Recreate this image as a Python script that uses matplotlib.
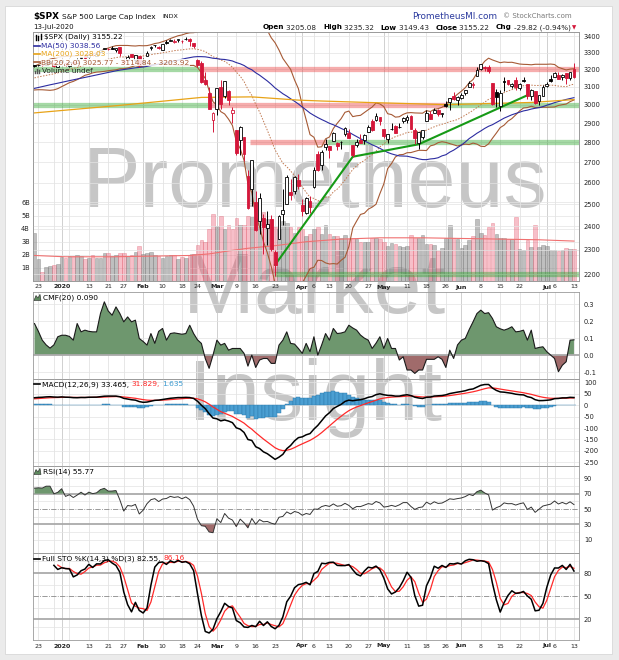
import numpy as np
import pandas as pd
import matplotlib
matplotlib.use("Agg")
import matplotlib.pyplot as plt
from matplotlib.patches import Rectangle, Polygon
from matplotlib.lines import Line2D
from matplotlib.ticker import NullLocator
from matplotlib.transforms import blended_transform_factory

# ------------------------------------------------------------------ data
holidays = ['2019-12-25', '2020-01-01', '2020-01-20', '2020-02-17',
            '2020-04-10', '2020-05-25', '2020-07-03']
dates = pd.bdate_range('2019-12-20', '2020-07-13')
dates = dates[~dates.isin(pd.to_datetime(holidays))]

# closes before the visible window (for indicator warm-up)
hist_close = [2938.13, 2970.27, 2966.15, 2995.68, 2989.69, 2997.95, 2986.20, 3006.72,
              2995.99, 3004.52, 3010.29, 3022.55, 3039.42, 3036.89, 3046.77, 3037.56,
              3066.91, 3078.27, 3074.62, 3076.78, 3085.18, 3093.08, 3087.01, 3091.84,
              3094.04, 3096.63, 3120.46, 3122.03, 3120.18, 3108.46, 3103.54, 3110.29,
              3133.64, 3140.52, 3153.63, 3140.98,
              3113.87, 3093.20, 3112.76, 3117.43, 3145.91, 3135.96, 3132.52, 3141.63,
              3168.57, 3168.80, 3191.45, 3192.52, 3191.14, 3205.37]

opens = [3223.33,
         3226.05, 3225.45, 3227.20, 3247.23, 3240.09, 3215.18,
         3244.67, 3226.36, 3217.55, 3241.86, 3238.59, 3266.03, 3281.81,
         3271.13, 3285.35, 3282.27, 3302.97, 3323.66,
         3321.03, 3330.02, 3315.77, 3333.10,
         3247.16, 3255.35, 3289.46, 3256.45, 3282.33,
         3235.66, 3280.61, 3324.91, 3344.92, 3335.54,
         3318.28, 3365.87, 3370.50, 3365.90, 3378.08,
         3369.04, 3380.39, 3380.45, 3360.50,
         3257.61, 3238.94, 3139.90, 3062.54, 2916.90,
         2974.28, 3096.46, 3045.75, 3075.70, 2954.20,
         2863.89, 2813.48, 2825.60, 2630.86, 2569.99,
         2508.59, 2425.66, 2436.50, 2393.48, 2431.94,
         2290.71, 2344.44, 2457.77, 2501.29, 2555.87,
         2558.98, 2614.69,
         2498.08, 2458.54, 2514.92,
         2578.28, 2738.65, 2685.00, 2776.99,
         2782.46, 2805.10, 2795.64, 2799.34, 2842.43,
         2845.62, 2784.81, 2787.89, 2810.42, 2812.64,
         2854.65, 2909.96, 2918.46, 2930.91,
         2869.09,
         2815.01, 2868.88, 2883.14, 2878.26, 2908.83,
         2915.46, 2939.50, 2865.86, 2794.54, 2829.95,
         2913.86, 2948.59, 2953.63, 2969.95, 2948.05,
         3004.08, 3015.65, 3046.61, 3025.17,
         3038.78, 3064.78, 3098.90, 3111.56, 3163.84,
         3199.92, 3213.32, 3213.42, 3123.53, 3071.04,
         2993.76, 3131.00, 3136.13, 3101.64, 3140.29,
         3094.42, 3138.70, 3114.40, 3046.60, 3073.20,
         3018.59, 3050.20,
         3105.92, 3143.64,
         3155.29, 3166.44, 3153.07, 3176.17, 3152.47,
         3205.08]

highs = [3225.65,
         3227.78, 3226.43, 3240.08, 3247.93, 3240.92, 3231.72,
         3258.14, 3246.15, 3246.84, 3244.91, 3267.07, 3275.58, 3282.99,
         3288.13, 3294.25, 3298.66, 3317.11, 3329.88,
         3329.79, 3337.77, 3326.88, 3333.18,
         3258.85, 3285.78, 3293.47, 3285.91, 3282.33,
         3268.44, 3306.92, 3337.58, 3347.96, 3341.42,
         3352.26, 3375.63, 3381.47, 3385.09, 3380.69,
         3375.01, 3393.52, 3389.15, 3360.76,
         3259.81, 3246.99, 3182.51, 3097.07, 2959.72,
         3090.96, 3136.72, 3130.97, 3083.04, 2985.93,
         2863.89, 2882.59, 2825.60, 2660.95, 2711.33,
         2562.98, 2553.93, 2453.57, 2466.97, 2453.01,
         2300.73, 2449.71, 2571.42, 2637.01, 2615.91,
         2631.80, 2641.39,
         2522.75, 2533.22, 2538.18,
         2676.85, 2756.89, 2760.75, 2818.57,
         2782.46, 2851.85, 2801.88, 2806.51, 2879.22,
         2868.98, 2785.54, 2815.10, 2844.90, 2842.71,
         2887.72, 2921.15, 2954.86, 2930.91,
         2869.09,
         2844.24, 2898.23, 2891.11, 2901.92, 2932.16,
         2944.25, 2945.82, 2874.14, 2852.80, 2865.01,
         2968.09, 2964.21, 2980.29, 2978.50, 2956.76,
         3021.72, 3036.25, 3068.67, 3049.17,
         3062.18, 3081.07, 3130.94, 3128.91, 3211.72,
         3233.13, 3222.71, 3223.27, 3123.53, 3088.42,
         3079.76, 3153.45, 3141.16, 3120.00, 3155.53,
         3120.92, 3154.90, 3115.01, 3086.25, 3073.73,
         3053.89, 3111.51,
         3128.44, 3165.81,
         3182.59, 3184.15, 3171.80, 3179.78, 3186.82,
         3235.32]

lows = [3216.03,
        3222.30, 3220.51, 3227.20, 3234.37, 3216.57, 3212.03,
        3235.53, 3222.34, 3214.64, 3232.43, 3236.67, 3263.67, 3260.86,
        3268.43, 3277.19, 3280.69, 3302.82, 3318.86,
        3316.61, 3320.04, 3301.87, 3281.53,
        3234.50, 3253.22, 3271.89, 3242.80, 3214.68,
        3235.66, 3280.61, 3313.75, 3334.39, 3322.12,
        3317.77, 3352.72, 3369.72, 3360.52, 3366.15,
        3355.61, 3378.83, 3341.02, 3328.45,
        3214.65, 3118.77, 3108.99, 2977.39, 2855.84,
        2945.19, 2976.63, 3034.38, 2999.83, 2901.54,
        2734.43, 2734.00, 2707.22, 2478.86, 2492.37,
        2380.94, 2367.04, 2280.52, 2319.78, 2295.56,
        2191.86, 2344.44, 2407.53, 2500.72, 2520.02,
        2545.28, 2571.15,
        2447.49, 2455.79, 2459.96,
        2574.57, 2657.67, 2663.30, 2762.36,
        2721.17, 2805.10, 2761.54, 2764.32, 2830.88,
        2820.43, 2727.10, 2775.95, 2794.26, 2791.76,
        2852.89, 2860.71, 2912.16, 2892.47,
        2821.61,
        2797.85, 2863.55, 2847.65, 2876.48, 2902.88,
        2903.44, 2869.59, 2793.15, 2766.64, 2816.78,
        2913.86, 2922.35, 2953.63, 2938.57, 2933.59,
        2988.17, 2969.75, 3023.40, 2998.61,
        3031.54, 3051.64, 3098.90, 3090.41, 3163.84,
        3196.00, 3193.11, 3181.49, 2999.49, 2984.47,
        2965.66, 3076.06, 3108.03, 3093.51, 3083.11,
        3079.39, 3127.12, 3032.13, 3024.01, 3004.63,
        2999.74, 3047.83,
        3101.17, 3124.52,
        3155.29, 3142.93, 3136.53, 3115.70, 3136.22,
        3149.43]

closes = [3221.22,
          3224.01, 3223.38, 3239.91, 3240.02, 3221.29, 3230.78,
          3257.85, 3234.85, 3246.28, 3237.18, 3253.05, 3274.70, 3265.35,
          3288.13, 3283.15, 3289.29, 3316.81, 3329.62,
          3320.79, 3321.75, 3325.54, 3295.47,
          3243.63, 3276.24, 3273.40, 3283.66, 3225.52,
          3248.92, 3297.59, 3334.69, 3345.78, 3327.71,
          3352.09, 3357.75, 3379.45, 3373.94, 3380.16,
          3370.29, 3386.15, 3373.23, 3337.75,
          3225.89, 3128.21, 3116.39, 2978.76, 2954.22,
          3090.23, 3003.37, 3130.12, 3023.94, 2972.37,
          2746.56, 2882.23, 2741.38, 2480.64, 2711.02,
          2386.13, 2529.19, 2398.10, 2409.39, 2304.92,
          2237.40, 2447.33, 2475.56, 2630.07, 2541.47,
          2626.65, 2584.59,
          2470.50, 2526.90, 2488.65,
          2663.68, 2659.41, 2749.98, 2789.82,
          2761.63, 2846.06, 2783.36, 2799.55, 2874.56,
          2823.16, 2736.56, 2799.31, 2797.80, 2836.74,
          2878.48, 2863.39, 2939.51, 2912.43,
          2830.71,
          2842.74, 2868.44, 2848.42, 2881.19, 2929.80,
          2930.32, 2870.12, 2820.00, 2852.50, 2863.70,
          2953.91, 2922.94, 2971.61, 2948.51, 2955.45,
          2991.77, 3036.13, 3029.73, 3044.31,
          3055.73, 3080.82, 3122.87, 3112.35, 3193.93,
          3232.39, 3207.18, 3190.14, 3002.10, 3041.31,
          3066.59, 3124.74, 3113.49, 3115.34, 3097.74,
          3117.86, 3131.29, 3050.33, 3083.76, 3009.05,
          3053.24, 3100.29,
          3115.86, 3130.01,
          3179.72, 3145.32, 3169.94, 3152.05, 3185.04,
          3155.22]

# volume in billions
volume_b = [3.7, 1.7, 0.65, 1.07, 1.15, 1.25, 1.3, 1.8, 1.75, 1.9, 1.9, 1.95, 1.9, 1.7,
            1.75, 2.0, 1.75, 1.75, 2.15, 2.15, 1.9, 2.0, 2.15, 2.15, 1.9, 2.0, 2.2, 2.7,
            2.07, 2.15, 2.2, 1.95, 1.9, 1.75, 1.9, 2.0, 1.95, 1.7, 1.8, 1.75, 2.0, 2.07,
            2.75, 3.1, 2.95, 3.95, 5.1,
            4.2, 4.95, 3.95, 4.3, 3.95, 4.8, 4.25, 4.3, 5.0, 4.9, 4.2, 4.6, 5.25, 4.7,
            4.7, 4.1, 3.95, 4.6, 4.45, 4.1, 3.7, 4.1, 3.95, 3.45, 3.6, 3.95, 4.1, 3.6,
            4.3, 3.6, 3.45, 3.45, 3.3, 3.5, 3.2, 3.3, 3.2, 2.95, 3.0, 2.95, 3.3, 3.3,
            3.2, 3.0, 2.7,
            2.9, 2.8, 2.7, 2.6, 2.65, 3.5, 3.3, 3.25, 3.5, 2.85, 2.85, 2.75, 2.3, 2.5,
            3.25, 4.3, 3.25, 3.2, 2.5, 2.75, 3.1, 3.4, 4.7, 3.7, 3.5, 4.1, 4.4, 3.6,
            3.3, 3.3, 3.2, 3.2, 4.9, 2.45, 2.4, 3.1, 2.6, 4.3, 2.6, 2.75, 2.7, 2.4,
            2.4, 2.3, 2.4, 2.5, 2.45, 2.45]

# volume moving-average line (read points: bar index, billions)
vol_ma_idx = [0, 8, 20, 40, 45, 50, 55, 62, 70, 79, 89, 100, 110, 120, 130, 139]
vol_ma_val = [1.95, 1.85, 1.85, 1.95, 2.07, 2.3, 2.5, 2.7, 3.0, 3.2, 3.3, 3.3, 3.25, 3.2, 3.15, 3.05]

# MA(200) line (read points)
ma200_idx = [0, 22, 43, 56, 68, 74, 86, 106, 128, 139]
ma200_val = [2955, 2996, 3040, 3043, 3025, 3020, 3012, 3000, 3012, 3028.03]

# Chaikin money flow (read per bar)
cmf = [0.186, 0.14, 0.088, 0.06, 0.041, 0.06, 0.108, 0.117, 0.117, 0.11, 0.088, 0.186,
       0.137, 0.147, 0.14, 0.137, 0.137, 0.245, 0.314, 0.26, 0.235, 0.284, 0.245, 0.196,
       0.225, 0.196, 0.206, 0.098, 0.08, 0.059, 0.127, 0.069, 0.14, 0.157, 0.088, 0.127,
       0.131, 0.127, 0.123, 0.127, 0.176, 0.127, 0.09, 0.069, -0.02, -0.078, 0.0, 0.088,
       0.059, 0.069, 0.029, 0.039, 0.039, 0.039, 0.01, -0.065, 0.0, -0.073, -0.029,
       -0.02, -0.02, -0.049, -0.049, 0.059, 0.088, 0.137, 0.069, 0.065, 0.039, 0.01,
       0.069, 0.02, 0.108, 0.0, 0.06, 0.127, 0.088, 0.157, 0.127, 0.13, 0.137, 0.176,
       0.16, 0.147, 0.118, 0.1, 0.088, 0.039, 0.07, 0.108, 0.039, 0.098, 0.039, 0.039,
       -0.029, -0.01, -0.088, -0.088, -0.108, -0.088, -0.088, -0.025, -0.025, -0.025,
       -0.01, -0.025, -0.073, 0.029, -0.02, 0.06, 0.088, 0.098, 0.15, 0.196, 0.245,
       0.265, 0.245, 0.25, 0.216, 0.167, 0.155, 0.147, 0.155, 0.167, 0.137, 0.14, 0.147,
       0.088, 0.147, 0.039, 0.045, 0.049, 0.02, 0.0, -0.02, -0.098, -0.06, -0.039,
       0.088, 0.09]

# drawn annotations: support / resistance bands (price, from bar, to bar, kind)
bands = [(3200, -1, 42.7, 'g'), (3200, 42.7, 141, 'r'),
         (3000, -1, 44.7, 'g'), (3000, 44.7, 106.3, 'r'), (3000, 106.3, 141, 'g'),
         (2800, 55.5, 75.4, 'r'), (2800, 75.4, 141, 'g'),
         (2200, 61.8, 141, 'g')]
trend_idx = [62, 82, 99, 127]
trend_px = [2237.4, 2727.1, 2790.0, 3052.0]

label_dates = ['2019-12-23', '2020-01-02', '2020-01-13', '2020-01-21', '2020-01-27',
               '2020-02-03', '2020-02-10', '2020-02-18', '2020-02-24', '2020-03-02',
               '2020-03-09', '2020-03-16', '2020-03-23', '2020-04-01', '2020-04-06',
               '2020-04-13', '2020-04-20', '2020-04-27', '2020-05-01', '2020-05-11',
               '2020-05-18', '2020-05-26', '2020-06-01', '2020-06-08', '2020-06-15',
               '2020-06-22', '2020-07-01', '2020-07-06', '2020-07-13']
label_text = ['23', '2020', '13', '21', '27', 'Feb', '10', '18', '24', 'Mar', '9', '16',
              '23', 'Apr', '6', '13', '20', '27', 'May', '11', '18', '26', 'Jun', '8',
              '15', '22', 'Jul', '6', '13']
price_ticks = [2200, 2300, 2400, 2500, 2600, 2700, 2800, 2900, 3000, 3100, 3200, 3300, 3400]
vol_ticks = [1, 2, 3, 4, 5, 6]

# ------------------------------------------------------------------ indicators
N = len(closes)
x = np.arange(N)
o = np.array(opens); h = np.array(highs); l = np.array(lows); c = np.array(closes)
call = np.array(hist_close + closes, float)
hall = np.array(hist_close + highs, float)
lall = np.array(hist_close + lows, float)
off = len(hist_close)


def sma(a, n):
    a = np.asarray(a, float)
    out = np.full(len(a), np.nan)
    for i in range(n - 1, len(a)):
        out[i] = a[i - n + 1:i + 1].mean()
    return out


def rstd(a, n):
    a = np.asarray(a, float)
    out = np.full(len(a), np.nan)
    for i in range(n - 1, len(a)):
        out[i] = a[i - n + 1:i + 1].std()
    return out


def ema(a, n):
    k = 2.0 / (n + 1)
    out = np.empty(len(a))
    out[0] = a[0]
    for i in range(1, len(a)):
        out[i] = a[i] * k + out[i - 1] * (1 - k)
    return out


ma50 = sma(call, 50)[off:]
bbm = sma(call, 20)[off:]
bbs = rstd(call, 20)[off:]
bbu, bbl = bbm + 2 * bbs, bbm - 2 * bbs

macd_all = ema(call, 12) - ema(call, 26)
sig_all = ema(macd_all, 9)
macd = macd_all[off:]; sig = sig_all[off:]; hist = macd - sig

d = np.diff(call)
g = np.clip(d, 0, None); ls = np.clip(-d, 0, None)
rsi_all = np.full(len(call), np.nan)
ag, al = g[:14].mean(), ls[:14].mean()
rsi_all[14] = 100 - 100 / (1 + ag / al)
for i in range(14, len(d)):
    ag = (ag * 13 + g[i]) / 14
    al = (al * 13 + ls[i]) / 14
    rsi_all[i + 1] = 100 - 100 / (1 + ag / al)
rsi = rsi_all[off:]

fastk = np.full(len(call), np.nan)
for i in range(13, len(call)):
    hh = hall[i - 13:i + 1].max(); ll = lall[i - 13:i + 1].min()
    fastk[i] = (call[i] - ll) / (hh - ll) * 100
fullk = sma(fastk, 3)
fulld = sma(fullk, 3)
stok = fullk[off:].copy(); stod = fulld[off:].copy()
stok[:5] = np.nan; stod[:6] = np.nan

prev = np.r_[hist_close[-1], closes[:-1]]
up_day = c >= prev
lbl_idx = [int(np.where(dates == pd.Timestamp(dd))[0][0]) for dd in label_dates]
wk = pd.Series(dates).dt.isocalendar().week.values
week_idx = [i for i in range(N) if i == 0 or wk[i] != wk[i - 1]]
month_idx = [i for i in range(N) if i > 0 and dates[i].month != dates[i - 1].month]
grid_idx = sorted(set(week_idx[1:] + month_idx))

# ------------------------------------------------------------------ figure
W, H = 619, 660
fig = plt.figure(figsize=(W / 100, H / 100), dpi=100)
fig.patch.set_facecolor('#ebebeb')
fig.add_artist(Rectangle((5 / W, 1 - 654 / H), 607 / W, 648 / H, transform=fig.transFigure,
                         facecolor='white', edgecolor='#d8d8d8', lw=0.6, zorder=-5))

LX, RX = 32.7, 579.0
XL = (-0.46, 140.3)
RED = '#d4173a'
GRN_FILL = '#6e976e'
RED_FILL = '#a06b6b'
GRID = '#e3e3e3'
MGRID = '#c9c9c9'
SP = '#9a9a9a'
FS = 4.8


def add_ax(top, bot):
    ax = fig.add_axes([LX / W, 1 - bot / H, (RX - LX) / W, (bot - top) / H])
    ax.set_facecolor('none')
    ax.set_xlim(*XL)
    ax.set_xticks([])
    for s in ax.spines.values():
        s.set_color(SP); s.set_linewidth(0.6)
    ax.yaxis.tick_right()
    ax.tick_params(axis='y', length=0, pad=3.5, labelsize=FS, colors='#222222')
    return ax


def vgrid(ax):
    for i in grid_idx:
        ax.axvline(i, color=MGRID if i in month_idx else GRID, lw=0.6, zorder=0)


# watermark (behind the data)
for word, yb in [('Prometheus', 207), ('Market', 313), ('Insight', 420)]:
    fig.text(315 / W, 1 - yb / H, word, fontsize=62, family='Liberation Sans',
             color='#c6c6c6', ha='center', va='baseline', zorder=-1)

# price / volume panel
ax_v = add_ax(32.3, 281.0)
ax_v.set_ylim(0, 19.0)
ax_v.yaxis.tick_left()
ax_v.set_yticks(vol_ticks)
ax_v.set_yticklabels([f'{v}B' for v in vol_ticks])
ax_v.tick_params(axis='y', length=0, pad=2, labelsize=FS)
vgrid(ax_v)
for v in vol_ticks:
    ax_v.axhline(v, color=GRID, lw=0.5, zorder=0)
vcol = [(0.5, 0.5, 0.5, 0.5) if u else (0.92, 0.35, 0.45, 0.38) for u in up_day]
vedge = [(0.45, 0.45, 0.45, 0.6) if u else (0.88, 0.35, 0.42, 0.55) for u in up_day]
ax_v.bar(x, volume_b, width=0.92, color=vcol, edgecolor=vedge, lw=0.4, zorder=1)
ax_v.plot(vol_ma_idx, vol_ma_val, color='#f07070', lw=0.8, zorder=2)

ax_p = add_ax(32.3, 281.0)
ax_p.set_yscale('log')
ax_p.set_ylim(2172, 3425)
ax_p.set_xlim(*XL)
ax_p.set_yticks(price_ticks)
ax_p.set_yticklabels([str(t) for t in price_ticks])
ax_p.yaxis.set_minor_locator(NullLocator())
for t in price_ticks:
    ax_p.axhline(t, color=GRID, lw=0.5, zorder=0.5)
for pr, a, b, k in bands:
    ax_p.plot([a, b], [pr, pr], color='#2aa52a' if k == 'g' else '#ea3c3c',
              lw=3.8, alpha=0.42, solid_capstyle='butt', zorder=1)
ax_p.plot(x, bbu, color='#a65a35', lw=0.8, zorder=2)
ax_p.plot(x, bbl, color='#a65a35', lw=0.8, zorder=2)
ax_p.plot(x, bbm, color='#c07850', lw=0.7, ls=(0, (1.5, 1.5)), zorder=2)
ax_p.plot(x, ma50, color='#2c2ca0', lw=0.8, zorder=2)
ax_p.plot(ma200_idx, ma200_val, color='#e8a317', lw=0.9, zorder=2)
ax_p.plot(trend_idx, trend_px, color='#169a16', lw=1.5, zorder=2.5)
for i in range(N):
    col = 'black' if up_day[i] else RED
    ax_p.vlines(i, l[i], h[i], colors=col, lw=0.7, zorder=3)
    bot, top = min(o[i], c[i]), max(o[i], c[i])
    if top - bot < bot * 0.0009:
        top = bot * 1.0009
    ax_p.bar(i, top - bot, bottom=bot, width=0.72,
             facecolor='white' if c[i] > o[i] else col, edgecolor=col, lw=0.6, zorder=4)

# CMF panel
ax_c = add_ax(292.0, 379.0)
ax_c.set_ylim(-0.141, 0.372)
ax_c.set_yticks([-0.1, 0.0, 0.1, 0.2, 0.3])
ax_c.set_yticklabels(['-0.1', '0.0', '0.1', '0.2', '0.3'])
vgrid(ax_c)
for t in [-0.1, 0.1, 0.2, 0.3]:
    ax_c.axhline(t, color=GRID, lw=0.5, zorder=0)
cm = np.array(cmf)
ax_c.fill_between(x, cm, 0, where=cm >= 0, interpolate=True, color=GRN_FILL, lw=0, zorder=1)
ax_c.fill_between(x, cm, 0, where=cm <= 0, interpolate=True, color=RED_FILL, lw=0, zorder=1)
ax_c.axhline(0, color='#aaaaaa', lw=1.3, zorder=1.5)
ax_c.plot(x, cm, color='#1a1a1a', lw=0.8, zorder=2)

# MACD panel
ax_m = add_ax(379.0, 466.0)
ax_m.set_ylim(-266, 114.6)
mt = [-250, -200, -150, -100, -50, 0, 50, 100]
ax_m.set_yticks(mt)
ax_m.set_yticklabels([str(t) for t in mt])
vgrid(ax_m)
for t in mt:
    ax_m.axhline(t, color=GRID, lw=0.5, zorder=0)
ax_m.bar(x, hist, width=1.0, color='#4b9fd2', edgecolor='#2a78aa', lw=0.3, zorder=1)
ax_m.plot(x, sig, color='#ff2a2a', lw=0.9, zorder=2)
ax_m.plot(x, macd, color='black', lw=1.1, zorder=3)

# RSI panel
ax_r = add_ax(466.0, 553.0)
ax_r.set_ylim(-7.2, 105.9)
ax_r.set_yticks([10, 30, 50, 70, 90])
ax_r.set_yticklabels(['10', '30', '50', '70', '90'])
vgrid(ax_r)
for t in [10, 20, 40, 60, 80, 90]:
    ax_r.axhline(t, color=GRID, lw=0.5, zorder=0)
ax_r.axhline(70, color='#aaaaaa', lw=1.3, zorder=1)
ax_r.axhline(30, color='#aaaaaa', lw=1.3, zorder=1)
ax_r.axhline(50, color='#888888', lw=0.6, ls='-.', zorder=1)
ax_r.fill_between(x, rsi, 70, where=rsi >= 70, interpolate=True, color=GRN_FILL, lw=0, zorder=1.5)
ax_r.fill_between(x, rsi, 30, where=rsi <= 30, interpolate=True, color=RED_FILL, lw=0, zorder=1.5)
ax_r.plot(x, rsi, color='#333333', lw=0.7, zorder=2)

# Stochastics panel
ax_s = add_ax(553.0, 640.0)
ax_s.set_ylim(-7, 106)
ax_s.set_yticks([20, 50, 80])
ax_s.set_yticklabels(['20', '50', '80'])
vgrid(ax_s)
for t in [10, 35, 65, 95]:
    ax_s.axhline(t, color=GRID, lw=0.5, zorder=0)
ax_s.axhline(80, color='#aaaaaa', lw=1.3, zorder=1)
ax_s.axhline(20, color='#aaaaaa', lw=1.3, zorder=1)
ax_s.axhline(50, color='#888888', lw=0.6, ls='-.', zorder=1)
ax_s.plot(x, stod, color='#ff2a2a', lw=0.9, zorder=2)
ax_s.plot(x, stok, color='black', lw=1.1, zorder=3)

# date labels (two rows)
tr = blended_transform_factory(ax_p.transData, fig.transFigure)
for yy in (287.0, 646.0):
    for i, t in zip(lbl_idx, label_text):
        bold = not t.isdigit() or t == '2020'
        fig.text(i, 1 - yy / H, t, transform=tr, ha='center', va='center', fontsize=4.5,
                 fontweight='bold' if bold else 'normal', color='#222222')

# ------------------------------------------------------------------ texts
R = fig.canvas.get_renderer()


def seq_text(x0, y0, parts, size=5.3, gap=2.5, bbox=None, z=20):
    xx = x0
    for s, col, wt in parts:
        t = fig.text(xx / W, 1 - y0 / H, s, fontsize=size, color=col, fontweight=wt,
                     ha='left', va='center', zorder=z, bbox=bbox)
        xx += t.get_window_extent(R).width + gap
    return xx


def seg(x0, x1, y, col, lw=1.2):
    fig.add_artist(Line2D([x0 / W, x1 / W], [1 - y / H, 1 - y / H], color=col, lw=lw,
                          transform=fig.transFigure, zorder=21))


def vbar(xp, y0, y1, col='black', lw=1.0):
    fig.add_artist(Line2D([xp / W, xp / W], [1 - y0 / H, 1 - y1 / H], color=col, lw=lw,
                          transform=fig.transFigure, zorder=21))


def mountain(x0, y):
    pts = [(x0, y + 3), (x0 + 2, y - 2), (x0 + 4, y + 0.5), (x0 + 6, y - 3.2), (x0 + 7, y + 3)]
    fig.add_artist(Polygon([(px / W, 1 - py / H) for px, py in pts], closed=True,
                           facecolor='#5e8a5e', edgecolor='#222222', lw=0.4,
                           transform=fig.transFigure, zorder=21))


# header
seq_text(33, 16.5, [('$SPX', 'black', 'bold')], size=6.4, gap=2)
seq_text(62, 16.5, [('S&P 500 Large Cap Index', '#111111', 'normal')], size=5.3)
seq_text(162, 16.5, [('INDX', '#111111', 'normal')], size=4.6)
seq_text(33, 27.5, [('13-Jul-2020', '#111111', 'normal')], size=5.0)
seq_text(412, 16.5, [('PrometheusMI.com', '#2b3a9e', 'normal')], size=6.4)
seq_text(503, 16.5, [('\u00a9 StockCharts.com', '#7a7a7a', 'normal')], size=5.0)
xe = seq_text(263, 27.5, [('Open', 'black', 'bold'), ('3205.08  ', '#222222', 'normal'),
                          ('High', 'black', 'bold'), ('3235.32  ', '#222222', 'normal'),
                          ('Low', 'black', 'bold'), ('3149.43  ', '#222222', 'normal'),
                          ('Close', 'black', 'bold'), ('3155.22  ', '#222222', 'normal'),
                          ('Chg', 'black', 'bold'), ('-29.82 (-0.94%)', '#222222', 'normal')],
              size=5.2, gap=2.0)
fig.text(xe / W, 1 - 28 / H, '\u25bc', fontsize=4.0, color=RED, ha='left', va='center')

# price legend
wb = dict(boxstyle='square,pad=0.05', fc='white', ec='none', alpha=0.85)
vbar(35.5, 39.5, 34.5); vbar(38, 40, 35.5); vbar(40.5, 39, 34)
seq_text(44, 37.0, [('$SPX (Daily) 3155.22', 'black', 'normal')], bbox=wb)
seg(34, 40, 45.7, '#2c2ca0')
seq_text(41, 45.7, [('MA(50) 3038.56', '#2c2ca0', 'normal')], bbox=wb)
seg(34, 40, 54.0, '#e8a317')
seq_text(41, 54.0, [('MA(200) 3028.03', '#e8a317', 'normal')], bbox=wb)
seg(34, 40, 62.3, '#a65a35')
seq_text(41, 62.3, [('BB(20,2.0) 3025.77 - 3114.84 - 3203.92', '#a65a35', 'normal')], bbox=wb)
for k, hh in enumerate([2.5, 4, 3]):
    vbar(35 + 2 * k, 73, 73 - hh, col='#555555')
seq_text(42, 70.7, [('Volume undef', '#222222', 'normal')])

# indicator labels
mountain(34, 297.5)
seq_text(43, 297.5, [('CMF(20) 0.090', 'black', 'normal')], size=5.4)
seg(34, 40, 384.5, 'black')
seq_text(42, 384.5, [('MACD(12,26,9) 33.465,', 'black', 'normal'), ('31.829,', '#ff2a2a', 'normal'),
                     ('1.635', '#3a9ad0', 'normal')], size=5.4)
mountain(34, 471.5)
seq_text(43, 471.5, [('RSI(14) 55.77', 'black', 'normal')], size=5.4)
seg(34, 40, 558.5, 'black')
seq_text(42, 558.5, [('Full STO %K(14,3) %D(3) 82.55,', 'black', 'normal'),
                     ('86.16', '#ff2a2a', 'normal')], size=5.4)

fig.savefig('out.png', dpi=100, facecolor=fig.get_facecolor())
